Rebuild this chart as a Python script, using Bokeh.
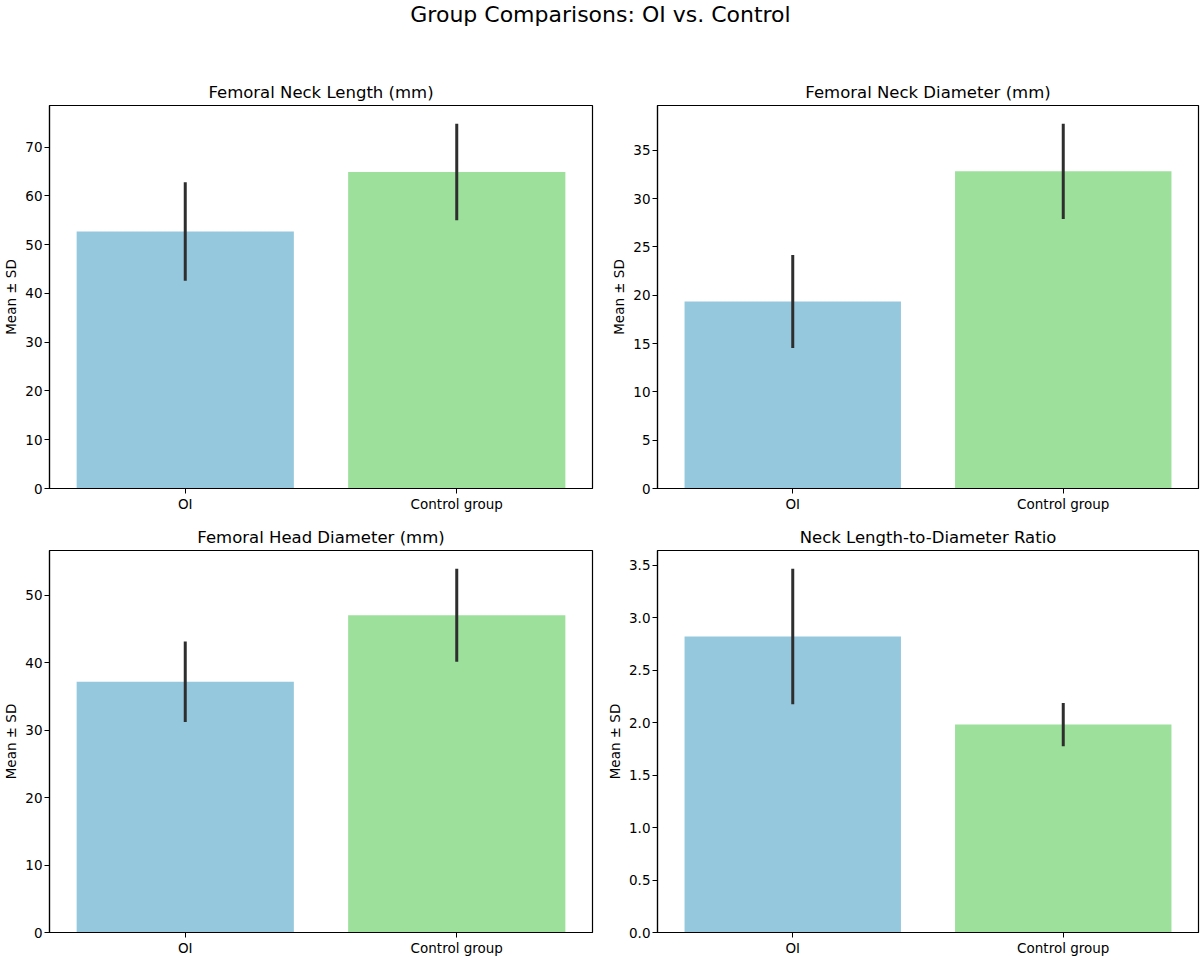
from bokeh.plotting import figure
from bokeh.layouts import column, row
from bokeh.models import Range1d, FactorRange, SingleIntervalTicker, PrintfTickFormatter, ColumnDataSource
from bokeh.core.properties import value
from bokeh.embed import file_html
from bokeh.resources import INLINE

# Group labels and bar colours
groups = ["OI", "Control group"]
bar_colors = ["#96C8DD", "#9CE09C"]

# Measurements: mean and standard deviation per group
neck_length_mean = [52.7, 64.9]
neck_length_sd = [10.1, 9.9]

neck_diameter_mean = [19.36, 32.83]
neck_diameter_sd = [4.82, 4.93]

head_diameter_mean = [37.15, 47.0]
head_diameter_sd = [5.97, 6.9]

ratio_mean = [2.82, 1.98]
ratio_sd = [0.645, 0.205]

panel_titles = [
    "Femoral Neck Length (mm)",
    "Femoral Neck Diameter (mm)",
    "Femoral Head Diameter (mm)",
    "Neck Length-to-Diameter Ratio",
]
tick_intervals = [10, 5, 10, 0.5]

FONT = "DejaVu Sans"


def make_panel(title, means, sds, interval, width, height, borders, decimals=False):
    upper = [m + s for m, s in zip(means, sds)]
    lower = [m - s for m, s in zip(means, sds)]
    ymax = max(upper) * 1.05
    src = ColumnDataSource(dict(g=groups, m=means, lo=lower, hi=upper, c=bar_colors))

    p = figure(
        x_range=FactorRange(*groups, range_padding=0.0),
        y_range=Range1d(0, ymax),
        width=width, height=height,
        output_backend="svg", toolbar_location=None,
        title=title,
        min_border_left=borders[0], min_border_right=borders[1],
        min_border_top=borders[2], min_border_bottom=borders[3],
    )
    p.vbar(x="g", top="m", width=0.8, fill_color="c", line_color=None, source=src)
    p.segment(x0="g", y0="lo", x1="g", y1="hi", line_width=3,
              line_color="#2e2e2e", source=src)

    p.title.align = "center"
    p.title.text_font = FONT
    p.title.text_font_size = "16.5px"
    p.title.text_font_style = "normal"
    p.title.text_color = "black"
    p.title.standoff = 7

    p.xgrid.visible = False
    p.ygrid.visible = False
    p.outline_line_color = "black"
    p.outline_line_width = 1.2
    p.outline_line_alpha = 1.0
    p.background_fill_color = "white"
    p.border_fill_color = "white"

    p.yaxis.ticker = SingleIntervalTicker(interval=interval)
    if decimals:
        p.yaxis.formatter = PrintfTickFormatter(format="%.1f")
    p.yaxis.axis_label = "Mean ± SD"
    p.yaxis.axis_label_standoff = 3

    for ax in (p.xaxis[0], p.yaxis[0]):
        ax.axis_line_color = "black"
        ax.axis_line_width = 1.2
        ax.major_tick_line_color = "black"
        ax.major_tick_out = 5
        ax.major_tick_in = 0
        ax.minor_tick_line_color = None
        ax.major_label_text_font = FONT
        ax.major_label_text_font_size = "13.5px"
        ax.major_label_text_color = "black"
        ax.major_label_standoff = 2
        ax.axis_label_text_font = FONT
        ax.axis_label_text_font_size = "13.5px"
        ax.axis_label_text_font_style = "normal"
        ax.axis_label_text_color = "black"
    p.xaxis.group_text_font_size = "0px"
    return p


# Figure-wide heading
head = figure(width=1200, height=60, x_range=Range1d(0, 1200), y_range=Range1d(0, 60),
              output_backend="svg", toolbar_location=None,
              min_border=0, min_border_left=0, min_border_right=0,
              min_border_top=0, min_border_bottom=0)
head.axis.visible = False
head.grid.visible = False
head.outline_line_color = None
head.text(x=[600], y=[46], text=["Group Comparisons: OI vs. Control"],
          text_align="center", text_baseline="middle",
          text_font=value(FONT), text_font_size="22px", text_color="black")

p1 = make_panel(panel_titles[0], neck_length_mean, neck_length_sd, tick_intervals[0],
                600, 458, (49, 8, 45, 30))
p2 = make_panel(panel_titles[1], neck_diameter_mean, neck_diameter_sd, tick_intervals[1],
                600, 458, (57, 2, 45, 30))
p3 = make_panel(panel_titles[2], head_diameter_mean, head_diameter_sd, tick_intervals[2],
                600, 440, (49, 8, 32, 25))
p4 = make_panel(panel_titles[3], ratio_mean, ratio_sd, tick_intervals[3],
                600, 440, (57, 2, 32, 25), decimals=True)

layout = column(head, row(p1, p2), row(p3, p4))

with open("out.html", "w") as f:
    f.write(file_html(layout, INLINE))
